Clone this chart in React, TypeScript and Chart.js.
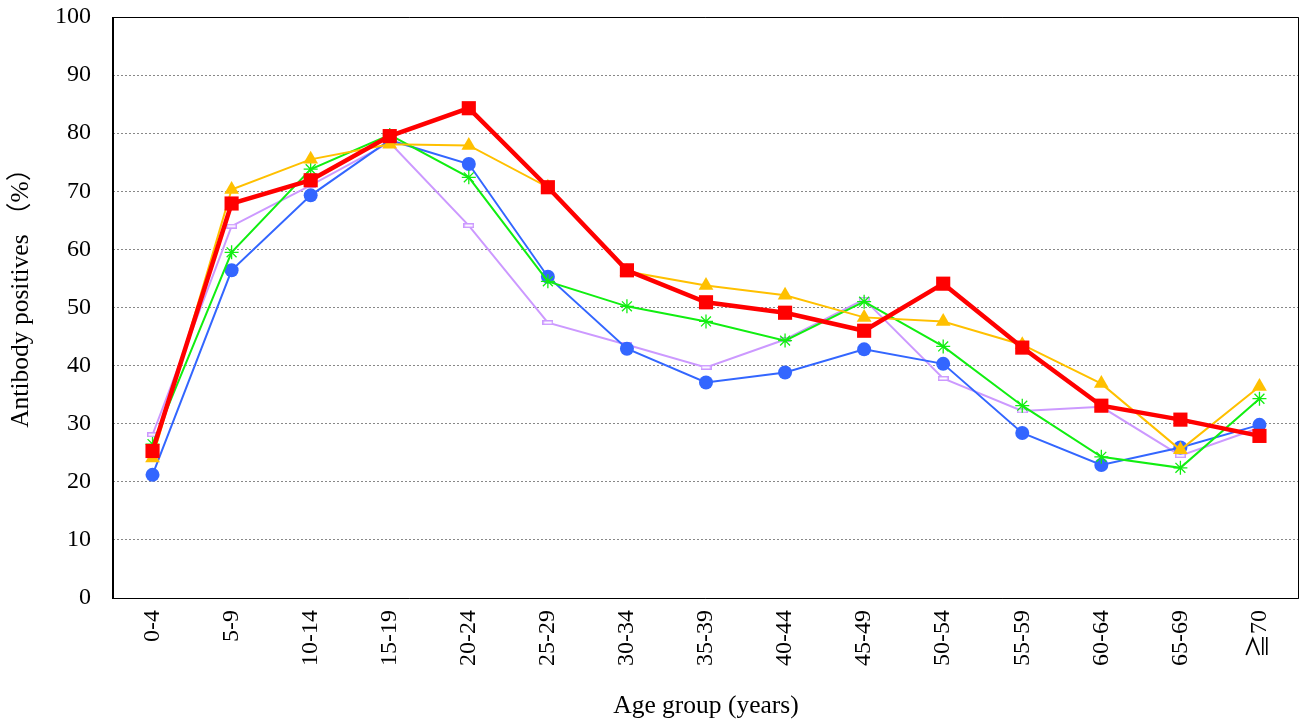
import React, { useEffect, useRef } from "react";
import { Chart, registerables } from "chart.js";

Chart.register(...registerables);

const categories = ["0-4", "5-9", "10-14", "15-19", "20-24", "25-29", "30-34", "35-39", "40-44", "45-49", "50-54", "55-59", "60-64", "65-69", "≧70"];
const yTicks = [0, 10, 20, 30, 40, 50, 60, 70, 80, 90, 100];
const blueSeries = [21.2, 56.4, 69.3, 78.8, 74.7, 55.3, 42.9, 37.1, 38.8, 42.8, 40.3, 28.4, 22.9, 25.9, 29.8];
const yellowSeries = [24.1, 70.3, 75.5, 78.1, 77.9, 70.7, 56.2, 53.8, 52.1, 48.3, 47.6, 43.6, 36.9, 25.5, 36.4];
const greenSeries = [26.5, 59.5, 73.8, 79.7, 72.4, 54.5, 50.2, 47.6, 44.3, 51.0, 43.3, 33.1, 24.3, 22.4, 34.3];
const purpleSeries = [28.1, 64.0, 71.0, 78.4, 64.1, 47.4, 43.6, 39.7, 44.5, 51.4, 37.8, 32.2, 32.9, 24.5, 29.3];
const redSeries = [25.3, 67.9, 71.9, 79.5, 84.3, 70.7, 56.4, 50.9, 49.1, 46.0, 54.1, 43.1, 33.1, 30.7, 27.9];
const yTitle = "Antibody positives （%）";
const xTitle = "Age group (years)";

const FONT = "'Liberation Serif', 'Noto Sans CJK JP', serif";

const borderPlugin = {
  id: "plotBorder",
  afterDatasetsDraw(chart: any) {
    const { ctx, chartArea } = chart;
    ctx.save();
    ctx.strokeStyle = "#000";
    ctx.lineWidth = 1;
    ctx.beginPath();
    ctx.moveTo(chartArea.left, chartArea.top + 0.5);
    ctx.lineTo(chartArea.right - 0.5, chartArea.top + 0.5);
    ctx.lineTo(chartArea.right - 0.5, chartArea.bottom + 0.5);
    ctx.lineTo(chartArea.left, chartArea.bottom + 0.5);
    ctx.stroke();
    ctx.lineWidth = 2;
    ctx.beginPath();
    ctx.moveTo(chartArea.left, chartArea.top);
    ctx.lineTo(chartArea.left, chartArea.bottom + 1);
    ctx.stroke();
    ctx.restore();
  },
};

const yTitlePlugin = {
  id: "yTitleText",
  afterDraw(chart: any) {
    const { ctx, chartArea } = chart;
    ctx.save();
    ctx.translate(21, chartArea.top + (chartArea.bottom - chartArea.top) * 0.473);
    ctx.rotate(-Math.PI / 2);
    ctx.font = `25.5px ${FONT}`;
    ctx.fillStyle = "#000";
    ctx.textAlign = "center";
    ctx.textBaseline = "middle";
    ctx.fillText(yTitle, 0, 0);
    ctx.restore();
  },
};

function makeDashMarker() {
  const c = document.createElement("canvas");
  c.width = 11;
  c.height = 5;
  const g = c.getContext("2d")!;
  g.fillStyle = "#ffffff";
  g.fillRect(0, 0, 11, 5);
  g.strokeStyle = "#cc99ff";
  g.lineWidth = 1.5;
  g.strokeRect(0.75, 0.75, 9.5, 3.5);
  return c;
}

export default function App() {
  const ref = useRef<HTMLCanvasElement>(null);
  useEffect(() => {
    document.body.style.margin = "0";
    const dashMarker = makeDashMarker();
    const chart = new Chart(ref.current!, {
      type: "line",
      data: {
        labels: categories,
        datasets: [
          {
            label: "Red",
            data: redSeries,
            borderColor: "#ff0000",
            backgroundColor: "#ff0000",
            borderWidth: 4.5,
            pointStyle: "rect",
            pointRadius: 10,
            pointBorderWidth: 0,
            order: 0,
          },
          {
            label: "Yellow",
            data: yellowSeries,
            borderColor: "#ffc000",
            backgroundColor: "#ffc000",
            borderWidth: 2,
            pointStyle: "triangle",
            pointRadius: 8.5,
            pointBorderWidth: 0,
            order: 1,
          },
          {
            label: "Green",
            data: greenSeries,
            borderColor: "#11ee11",
            backgroundColor: "#11ee11",
            borderWidth: 2,
            pointStyle: "star",
            pointRadius: 7,
            pointBorderWidth: 1.3,
            order: 2,
          },
          {
            label: "Blue",
            data: blueSeries,
            borderColor: "#3366ff",
            backgroundColor: "#3366ff",
            borderWidth: 2,
            pointStyle: "circle",
            pointRadius: 7,
            pointBorderWidth: 0,
            order: 3,
          },
          {
            label: "Purple",
            data: purpleSeries,
            borderColor: "#cc99ff",
            backgroundColor: "#cc99ff",
            borderWidth: 2,
            pointStyle: dashMarker,
            pointRadius: 5,
            pointBorderWidth: 0,
            order: 4,
          },
        ],
      },
      options: {
        animation: false,
        responsive: false,
        maintainAspectRatio: false,
        layout: { autoPadding: false, padding: { top: 17, right: 1, left: 0, bottom: 0 } },
        plugins: { legend: { display: false }, tooltip: { enabled: false }, title: { display: false } },
        scales: {
          x: {
            type: "category",
            offset: true,
            grid: { display: false, drawTicks: false },
            border: { display: false },
            ticks: {
              color: "#000",
              font: { family: FONT, size: 24 },
              minRotation: 90,
              maxRotation: 90,
              padding: 12,
              autoSkip: false,
            },
            title: {
              display: true,
              text: xTitle,
              color: "#000",
              font: { family: FONT, size: 25.5 },
              padding: { top: 0, bottom: 2 },
            },
            afterFit(scale: any) {
              scale.height = 126;
              scale.paddingLeft = 0;
              scale.paddingRight = 0;
            },
          },
          y: {
            min: 0,
            max: 100,
            afterBuildTicks(scale: any) {
              scale.ticks = yTicks.map((v) => ({ value: v }));
            },
            grid: { color: "#888", lineWidth: 1, drawTicks: false },
            border: { display: false, dash: [2, 2] },
            ticks: {
              color: "#000",
              font: { family: FONT, size: 24 },
              padding: 22,
            },
            title: { display: false },
            afterFit(scale: any) {
              scale.width = 113;
              scale.paddingTop = 0;
              scale.paddingBottom = 0;
            },
          },
        },
      },
      plugins: [borderPlugin, yTitlePlugin],
    } as any);
    return () => chart.destroy();
  }, []);
  return (
    <div style={{ width: 1300, height: 724 }}>
      <canvas ref={ref} width={1300} height={724} style={{ display: "block" }} />
    </div>
  );
}
